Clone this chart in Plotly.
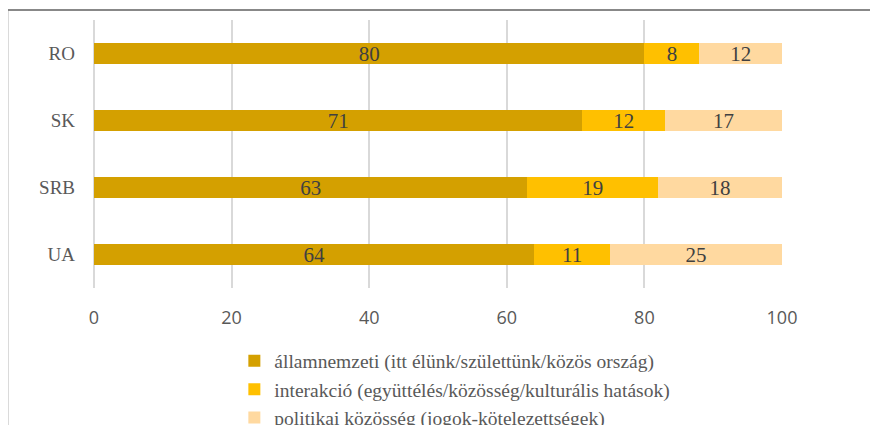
import plotly.graph_objects as go

countries = ['RO', 'SK', 'SRB', 'UA']
allamnemzeti = [80, 71, 63, 64]
interakcio = [8, 12, 19, 11]
politikai = [12, 17, 18, 25]
series_names = ['államnemzeti (itt élünk/születtünk/közös ország)',
                'interakció (együttélés/közösség/kulturális hatások)',
                'politikai közösség (jogok-kötelezettségek)']
series_colors = ['#D4A000', '#FFC000', '#FFD9A0']

fig = go.Figure()
for name, vals, color in zip(series_names, [allamnemzeti, interakcio, politikai], series_colors):
    fig.add_trace(go.Bar(y=countries, x=vals, name=name, orientation='h',
                         marker=dict(color=color, line=dict(width=0)),
                         text=vals, textposition='inside', insidetextanchor='middle',
                         constraintext='none', textangle=0,
                         textfont=dict(family='Liberation Serif', size=21, color='#404040')))

# page body adds 8px offset, figure is taller than the window so the legend gets cut like the original
fig.update_layout(width=878, height=460, barmode='stack', bargap=0.69,
                  plot_bgcolor='white', paper_bgcolor='white',
                  margin=dict(l=86, r=104, t=12, b=180),
                  legend=dict(orientation='v', x=0.204, y=-0.2, xanchor='left', yanchor='top',
                              bgcolor='rgba(0,0,0,0)',
                              font=dict(family='Liberation Serif', size=19.5, color='#595959'),
                              traceorder='normal', itemwidth=30, tracegroupgap=0))

fig.update_xaxes(range=[0, 100], dtick=20, showgrid=True, gridcolor='#D9D9D9', gridwidth=2,
                 zeroline=True, zerolinecolor='#D9D9D9', zerolinewidth=2,
                 showline=False, ticks='', ticklabelstandoff=17,
                 tickfont=dict(family='Open Sans', size=18, color='#595959'))
fig.update_yaxes(categoryorder='array', categoryarray=countries[::-1], range=[-0.5, 3.5],
                 showgrid=False, showline=False, ticks='', ticklabelstandoff=18,
                 tickfont=dict(family='Liberation Serif', size=19, color='#595959'))

# chart border (only top and left edges fall inside the crop)
fig.add_shape(type='rect', xref='paper', yref='paper',
              x0=-0.126, x1=1.2, y0=-0.9, y1=1.037,
              line=dict(color='#888888', width=2))

fig.write_html("out.html")
